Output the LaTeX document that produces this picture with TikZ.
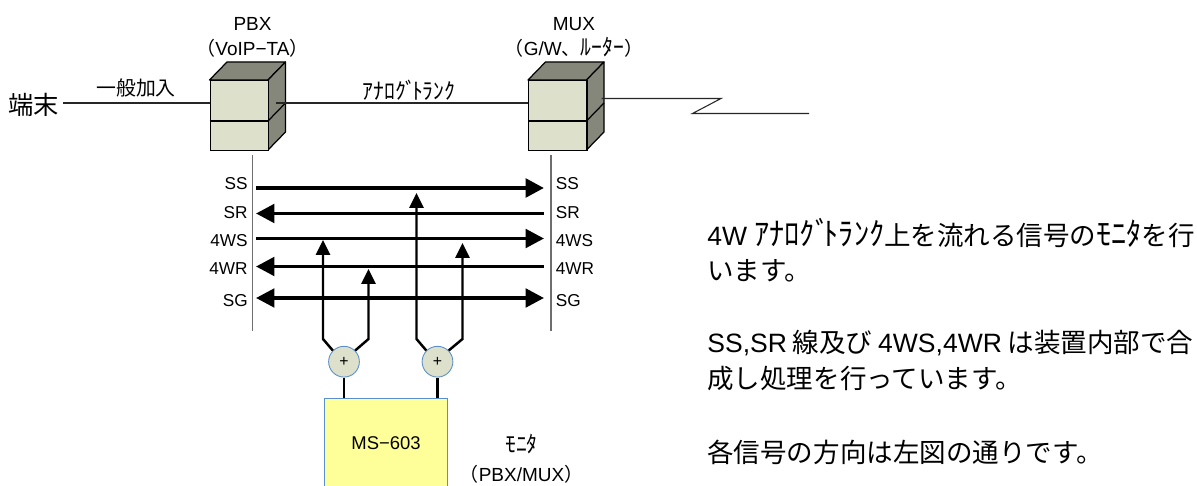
\documentclass[tikz,border=0pt]{standalone}
\usepackage{fontspec}
\setmainfont{Liberation Sans}
\newfontfamily\jpfont{Noto Sans CJK JP}
\newfontfamily\kanafont[Scale=1.2,FakeStretch=0.95]{Noto Sans CJK JP}
\newcommand{\jp}[1]{{\jpfont #1}}
\newcommand{\kana}[1]{{\kanafont #1}}
\usetikzlibrary{arrows.meta}
\definecolor{boxface}{HTML}{DDE1CC}
\definecolor{boxdark}{HTML}{85877A}
\definecolor{monyellow}{HTML}{FFFF99}
\definecolor{monblue}{HTML}{5B8FCB}
\definecolor{wiregray}{HTML}{6E6E6E}
\tikzset{
  front/.style={draw=black, fill=boxface, line width=0.7pt, minimum width=58.5*0.567pt, minimum height=70*0.567pt, inner sep=0pt},
  side/.style={draw=black, fill=boxdark, line width=0.7pt, line join=round},
  wire/.style={black!85, line width=0.6pt},
  bar/.style={wiregray, line width=0.9pt},
  thick line/.style={line width=2.2pt, -{Triangle[length=10.5pt,width=10.5pt]}},
  up line/.style={line width=1.4pt, -{Triangle[length=8.5pt,width=8pt]}},
  feed/.style={line width=1.4pt},
  sum/.style={circle, draw=monblue, fill=boxface, line width=0.5pt, minimum size=17.5pt, inner sep=0pt, font=\fontsize{9}{9}\selectfont},
  sig/.style={font=\fontsize{9.8}{11}\selectfont},
  head/.style={align=center, font=\fontsize{10.8}{14.2}\selectfont},
  para/.style={anchor=base west, inner sep=0pt, font=\fontsize{15.1}{16}\selectfont},
}
\begin{document}
\begin{tikzpicture}[x=0.02cm, y=-0.02cm]
    \clip (0,0) rectangle (1197,486);
    \useasboundingbox (0,0) rectangle (1197,486);
    \fill[white] (0,0) rectangle (1197,486);

    % Cabinets
    \foreach \name/\xa in {pbx/209.5, mux/528} {
        \draw[side] (\xa,80) -- (\xa+17.5,62) -- (\xa+76,62) -- (\xa+58.5,80) -- cycle;
        \draw[side] (\xa+58.5,80) -- (\xa+76,62) -- (\xa+76,132) -- (\xa+58.5,150) -- cycle;
        \draw[side] (\xa+58.5,121) -- (\xa+76,103);
        \node[front, anchor=north west] (\name) at (\xa,80) {};
        \draw[side] (\xa,121) -- (\xa+58.5,121);
    }

    % Labels
    \node[head] (pbxname) at (252.5,37) {PBX\\\jp{（}VoIP−TA\jp{）}};
    \node[head] (muxname) at (574,37) {MUX\\\jp{（}G/W\jp{、}\kana{ﾙｰﾀｰ}\jp{）}};
    \node[font=\fontsize{14.4}{15}\selectfont] (term) at (34,105) {\jp{端末}};
    \node[font=\fontsize{11.3}{13}\selectfont] (sub) at (136,88) {\jp{一般加入}};
    \node[font=\fontsize{10.8}{13}\selectfont] (trunk) at (409,90) {\kana{ｱﾅﾛｸﾞ\kern-0.2em ﾄﾗﾝｸ}};

    % Lines
    \coordinate (termout) at (63,103);
    \coordinate (pbxin) at (209.5,103);
    \coordinate (pbxout) at (276,103);
    \coordinate (muxin) at (528,103);
    \coordinate (muxout) at (601.5,98.5);
    \coordinate (zigtop) at (721,98.5);
    \coordinate (zigbot) at (692.5,113.5);
    \coordinate (lineend) at (809,113.5);
    \draw[wire] (termout) -- (pbxin);
    \draw[wire] (pbxout) -- (muxin);
    \draw[wire] (muxout) -- (zigtop) -- (zigbot) -- (lineend);

    % Side bars
    \coordinate (bar1a) at (252.5,155);
    \coordinate (bar1b) at (252.5,331);
    \coordinate (bar2a) at (551,155);
    \coordinate (bar2b) at (551,331);
    \draw[bar] (bar1a) -- (bar1b);
    \draw[bar] (bar2a) -- (bar2b);

    % Signals
    \foreach \name/\ya/\yb in {SS/188/184, SR/213.5/213, 4WS/238.5/241, 4WR/266.5/269, SG/298/301} {
        \coordinate (\name a) at (256,\ya);
        \coordinate (\name b) at (544,\ya);
        \node[sig, anchor=east, inner sep=0pt] (\name l) at (248,\yb) {\name};
        \node[sig, anchor=west, inner sep=0pt] (\name r) at (555.5,\yb) {\name};
    }
    \draw[thick line, line width=2.4pt] (SSa) -- (SSb);
    \draw[thick line] (SRb) -- (SRa);
    \draw[thick line] (4WSa) -- (4WSb);
    \draw[thick line] (4WRb) -- (4WRa);
    \draw[thick line, {Triangle[length=10.5pt,width=10.5pt]}-{Triangle[length=10.5pt,width=10.5pt]}] (SGa) -- (SGb);

    % Monitor
    \node[draw=monblue, fill=monyellow, line width=0.5pt, minimum width=123*0.567pt, minimum height=90*0.567pt, anchor=north west, inner sep=0pt, font=\fontsize{10.5}{13}\selectfont] (ms) at (324.3,398) {MS−603};
    \node[sum] (sum1) at (344,361.7) {+};
    \node[sum] (sum2) at (437.5,361.7) {+};
    \draw[feed] (sum1) -- (sum1 |- ms.north);
    \draw[feed] (sum2) -- (sum2 |- ms.north);
    \node[align=center, font=\fontsize{10.8}{16.4}\selectfont] (monname) at (521.5,458.5) {\kana{ﾓﾆﾀ}\\\jp{（}PBX/MUX\jp{）}};

    % Taps
    \foreach \from/\xa/\tip/\ang in {sum1/323/240/135, sum1/368.5/269/45, sum2/416.5/193/135, sum2/462.5/243/45} {
        \coordinate (knee) at (\xa,339);
        \coordinate (top) at (\xa,\tip);
        \draw[up line, line join=miter] (\from.\ang) -- (knee) -- (top);
    }

    % Notes
    \node[para] (note1) at (707,245.5) {4W \kana{ｱﾅﾛｸﾞ\kern-0.2em ﾄﾗﾝｸ}\jp{上を流れる信号の}\kana{ﾓﾆﾀ}\jp{を行}};
    \node[para] (note2) at (707,280) {\jp{います。}};
    \node[para] (note3) at (707,352.5) {\makebox[276.7pt][s]{SS,SR \jp{線及び} 4WS,4WR \jp{は装置内部で合}}};
    \node[para] (note4) at (707,388) {\jp{成し処理を行っています。}};
    \node[para] (note5) at (707,462) {\jp{各信号の方向は左図の通りです。}};
\end{tikzpicture}
\end{document}
